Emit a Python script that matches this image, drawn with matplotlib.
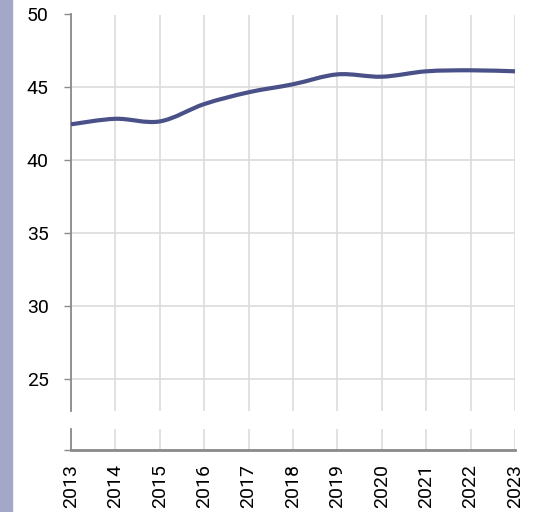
import numpy as np
import matplotlib
matplotlib.use("Agg")
import matplotlib.pyplot as plt
from matplotlib.path import Path
from matplotlib.patches import PathPatch, Rectangle

# -----------------------
# Datos
# -----------------------
years = [2013, 2014, 2015, 2016, 2017, 2018, 2019, 2020, 2021, 2022, 2023]
values = [42.46, 42.84, 42.66, 43.85, 44.66, 45.21, 45.89, 45.73, 46.10, 46.17, 46.10]
y_ticks = [25, 30, 35, 40, 45, 50]
x_labels = [str(y) for y in years]

line_color = "#4a5189"
grid_color = "#dcdcdc"
spine_color = "#8a8a8a"

plt.rcParams['font.family'] = ['Roboto', 'DejaVu Sans']

W, H = 542, 512
fig = plt.figure(figsize=(W / 100, H / 100), dpi=100)

# barra lateral
fig.patches.append(Rectangle((0, 0), 12 / W, 1, transform=fig.transFigure,
                             color="#a4a8c8", zorder=0))

left = 71 / W
width = (515 - 71) / W
ax = fig.add_axes([left, 1 - 410.7 / H, width, (410.7 - 14.5) / H])
ax2 = fig.add_axes([left, 1 - 450 / H, width, (450 - 429) / H])

# -----------------------
# Eje superior
# -----------------------
ax.set_xlim(years[0], years[-1])
ax.set_ylim(22.8, 50)
ax.set_yticks(y_ticks)
ax.set_yticklabels([str(t) for t in y_ticks])
ax.set_xticks(years)
ax.tick_params(axis='x', length=0, labelbottom=False)
ax.tick_params(axis='y', length=5, width=1, color=spine_color, pad=11, labelsize=14)
ax.grid(True, color=grid_color, linewidth=1.2)
ax.set_axisbelow(True)
for s in ['top', 'right', 'bottom']:
    ax.spines[s].set_visible(False)
ax.spines['left'].set_color(spine_color)
ax.spines['left'].set_linewidth(1.3)

# linea suavizada (curvas Bezier tipo Catmull-Rom)
pts = np.column_stack([years, values]).astype(float)
verts = [tuple(pts[0])]
codes = [Path.MOVETO]
for i in range(len(pts) - 1):
    p0 = pts[i - 1] if i > 0 else pts[i]
    p1 = pts[i]
    p2 = pts[i + 1]
    p3 = pts[i + 2] if i + 2 < len(pts) else pts[i + 1]
    c1 = p1 + (p2 - p0) / 6
    c2 = p2 - (p3 - p1) / 6
    verts += [tuple(c1), tuple(c2), tuple(p2)]
    codes += [Path.CURVE4] * 3
ax.add_patch(PathPatch(Path(verts, codes), facecolor='none', edgecolor=line_color,
                       linewidth=3, capstyle='butt', zorder=3, clip_on=False))

# -----------------------
# Eje inferior (tramo cortado)
# -----------------------
ax2.set_xlim(years[0], years[-1])
ax2.set_ylim(0, 1)
ax2.set_yticks([0])
ax2.set_yticklabels([""])
ax2.set_xticks(years)
ax2.set_xticklabels(x_labels, rotation=90)
ax2.tick_params(axis='x', length=0, pad=10, labelsize=14)
ax2.tick_params(axis='y', length=5, width=1, color=spine_color)
ax2.grid(True, axis='x', color=grid_color, linewidth=1.2)
ax2.set_axisbelow(True)
for s in ['top', 'right']:
    ax2.spines[s].set_visible(False)
for s in ['left', 'bottom']:
    ax2.spines[s].set_color(spine_color)
    ax2.spines[s].set_linewidth(1.3)
ax2.spines['bottom'].set_linewidth(2)

fig.savefig("out.png", dpi=100)
